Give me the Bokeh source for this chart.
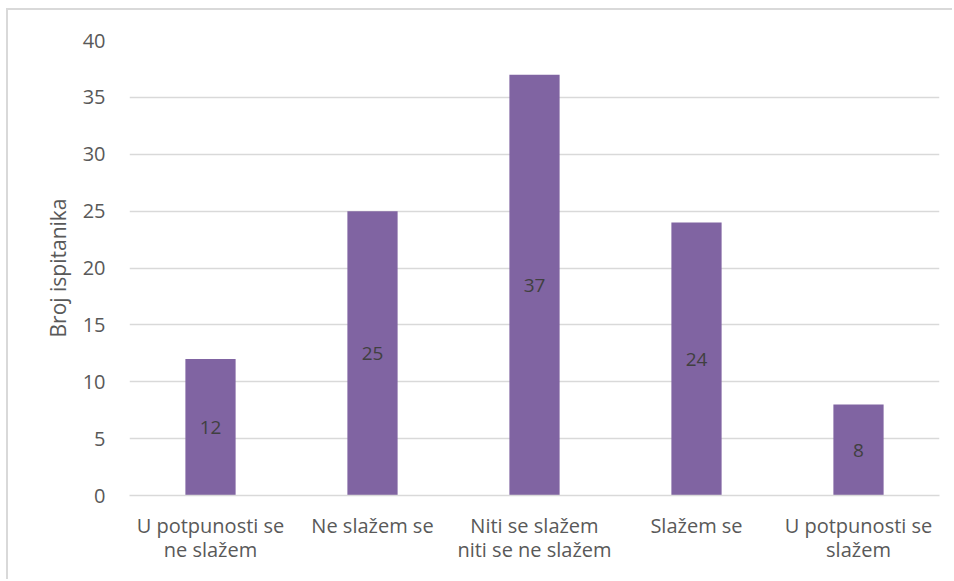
from bokeh.plotting import figure
from bokeh.models import ColumnDataSource, FixedTicker, Range1d, LabelSet
from bokeh.core.properties import value
from bokeh.embed import file_html
from bokeh.resources import INLINE

categories = ["U potpunosti se\nne slažem", "Ne slažem se", "Niti se slažem\nniti se ne slažem",
              "Slažem se", "U potpunosti se\nslažem"]
values = [12, 25, 37, 24, 8]
y_ticks = [0, 5, 10, 15, 20, 25, 30, 35, 40]

FONT = "Open Sans"
xs = list(range(len(categories)))
src = ColumnDataSource(dict(x=xs, top=values, mid=[v / 2 for v in values],
                            lab=[str(v) for v in values]))

p = figure(width=946, height=571, output_backend="svg", toolbar_location=None,
           x_range=Range1d(-0.5, 4.5), y_range=Range1d(0, 40),
           min_border_left=121, min_border_right=15, min_border_top=30, min_border_bottom=86)
p.styles = {"border-left": "2px solid #d9d9d9", "border-top": "2px solid #d9d9d9",
            "margin-top": "8px", "margin-left": "6px"}
p.outline_line_color = None

p.vbar(x="x", top="top", width=0.31, bottom=0, source=src, fill_color="#8064A2", line_color=None)
p.add_layout(LabelSet(x="x", y="mid", text="lab", source=src, text_align="center",
                      text_baseline="middle", text_color="#404040", text_font_size="19px",
                      text_font=value(FONT)))

p.xaxis.ticker = FixedTicker(ticks=xs)
p.xaxis.major_label_overrides = {i: c for i, c in enumerate(categories)}
p.xaxis.major_label_text_font = FONT
p.xaxis.major_label_text_font_size = "20px"
p.xaxis.major_label_text_line_height = 0.9
p.xaxis.major_label_text_color = "#595959"
p.xaxis.major_label_standoff = 10
p.xaxis.axis_line_color = "#d9d9d9"
p.xaxis.axis_line_width = 1.5
p.xaxis.major_tick_line_color = None
p.xaxis.minor_tick_line_color = None
p.xgrid.grid_line_color = None

p.yaxis.ticker = FixedTicker(ticks=y_ticks)
p.yaxis.axis_label = "Broj ispitanika"
p.yaxis.axis_label_text_font = FONT
p.yaxis.axis_label_text_font_style = "normal"
p.yaxis.axis_label_text_font_size = "21px"
p.yaxis.axis_label_text_color = "#595959"
p.yaxis.axis_label_standoff = 8
p.yaxis.major_label_text_font = FONT
p.yaxis.major_label_text_font_size = "20px"
p.yaxis.major_label_text_color = "#595959"
p.yaxis.major_label_standoff = 18
p.yaxis.axis_line_color = None
p.yaxis.major_tick_line_color = None
p.yaxis.minor_tick_line_color = None
p.ygrid.grid_line_color = "#d9d9d9"
p.ygrid.grid_line_width = 1.5

open("out.html", "w").write(file_html(p, INLINE))
